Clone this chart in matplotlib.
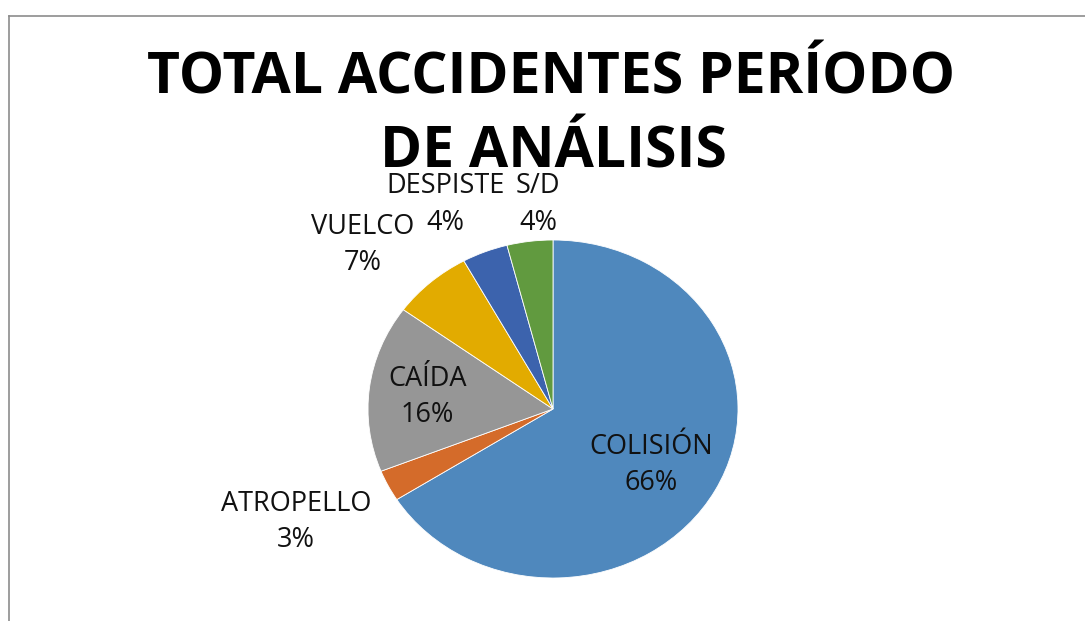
import matplotlib.pyplot as plt
from matplotlib.lines import Line2D

categories = ["COLISIÓN", "ATROPELLO", "CAÍDA", "VUELCO", "DESPISTE", "S/D"]
shares = [66, 3, 16, 7, 4, 4]
colors = ["#4F88BD", "#D46B2A", "#969696", "#E2AB00", "#3C63AD", "#619A3F"]

# label centres in pie coords (radius 1)
label_pos = [(0.53, -0.33), (-1.39, -0.67), (-0.68, 0.07),
             (-1.03, 0.97), (-0.58, 1.21), (-0.08, 1.21)]

W, H = 1085, 621
fig = plt.figure(figsize=(W / 100, H / 100), dpi=100)

# frame lines (top and left visible in the reference)
fig.add_artist(Line2D([9 / W, 1], [1 - 16 / H, 1 - 16 / H], color="#8C8C8C", lw=1.2))
fig.add_artist(Line2D([9 / W, 9 / W], [0, 1 - 16 / H], color="#8C8C8C", lw=1.2))

fig.text(551 / W, 1 - 93 / H, "TOTAL ACCIDENTES PERÍODO", ha="center", va="baseline",
         fontsize=41, fontweight="bold", family="Open Sans")
fig.text(553 / W, 1 - 168 / H, "DE ANÁLISIS", ha="center", va="baseline",
         fontsize=41, fontweight="bold", family="Open Sans")

# pie box: centre (553, 409), rx 185, ry 169 px
ax = fig.add_axes([368 / W, 1 - 578 / H, 370 / W, 338 / H])
ax.pie(shares, colors=colors, startangle=90, counterclock=False,
       wedgeprops=dict(edgecolor="white", linewidth=0.6))
ax.set_aspect("auto")
ax.set_xlim(-1, 1)
ax.set_ylim(-1, 1)
ax.axis("off")

for name, val, (x, y) in zip(categories, shares, label_pos):
    ax.text(x, y, f"{name}\n{val}%", ha="center", va="center", fontsize=19.5,
            family="Open Sans", color="#111111", linespacing=1.4, clip_on=False)

fig.savefig("out.png", dpi=100, facecolor="white")
